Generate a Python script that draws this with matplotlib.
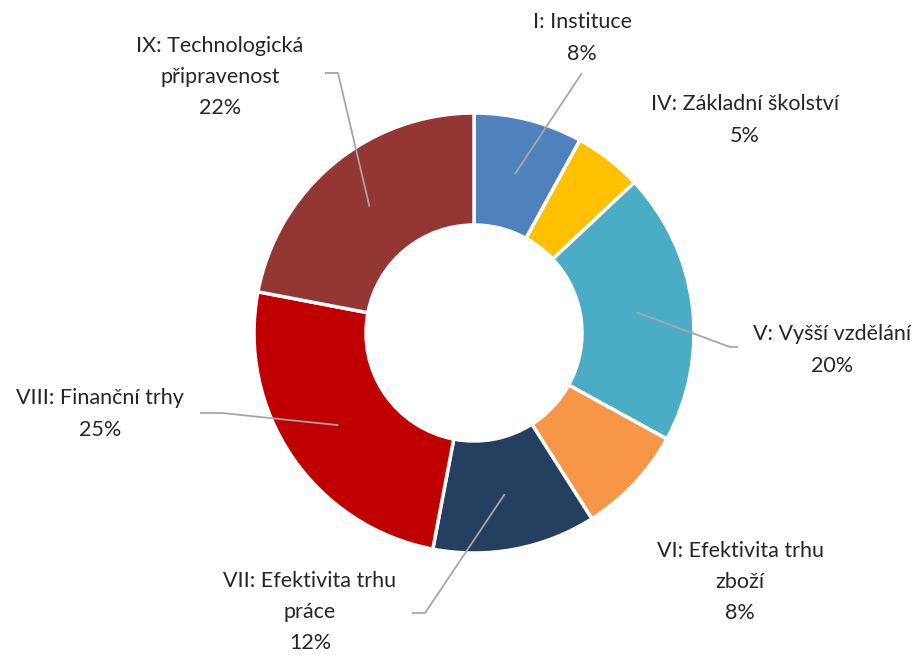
import numpy as np
import matplotlib
matplotlib.use("Agg")
import matplotlib.pyplot as plt

labels = ["I: Instituce", "IV: Základní školství", "V: Vyšší vzdělání",
          "VI: Efektivita trhu\nzboží", "VII: Efektivita trhu\npráce",
          "VIII: Finanční trhy", "IX: Technologická\npřipravenost"]
values = [8, 5, 20, 8, 12, 25, 22]
colors = ["#4F81BD", "#FFC000", "#4BACC6", "#F79646", "#243F60", "#C00000", "#943634"]

W, H = 921, 655
fig = plt.figure(figsize=(W / 100, H / 100), dpi=100)
ax = fig.add_axes([0, 0, 1, 1])
ax.set_xlim(0, W)
ax.set_ylim(0, H)
ax.set_aspect("equal")
ax.axis("off")

def px(x, y):
    return (x, H - y)

cx, cy = px(474, 333)
R = 220
width = 112
wedges, _ = ax.pie(values, colors=colors, startangle=90, counterclock=False,
                   radius=R, center=(cx, cy),
                   wedgeprops=dict(width=width, edgecolor="white", linewidth=2.5))
ax.set_xlim(0, W)
ax.set_ylim(0, H)

font = ["Lato", "DejaVu Sans"]
txtcol = "#262626"
# label block centers (pixel coords) and leader-line end points
label_pos = [(582, 38), (745, 120), (832, 350), (740, 582), (310, 612), (100, 414), (220, 77)]
leaders = [
    [(582, 73)],
    None,
    [(730, 347), (738, 347)],
    None,
    [(425, 613), (412, 613)],
    [(222, 413), (200, 413)],
    [(338, 73), (325, 73)],
]

total = sum(values)
rmid = R - width / 2
for w, lab, v, pos, ld in zip(wedges, labels, values, label_pos, leaders):
    ang = np.deg2rad((w.theta1 + w.theta2) / 2)
    sx, sy = cx + rmid * np.cos(ang), cy + rmid * np.sin(ang)
    if ld is not None:
        pts = [(sx, sy)] + [px(*p) for p in ld]
        xs, ys = zip(*pts)
        ax.plot(xs, ys, color="#A6A6A6", lw=1.3, solid_capstyle="butt")
    ax.text(*px(*pos), f"{lab}\n{round(v / total * 100)}%", ha="center", va="center",
            fontsize=15.5, family=font, color=txtcol, linespacing=1.7)

fig.savefig("out.png", dpi=100)
